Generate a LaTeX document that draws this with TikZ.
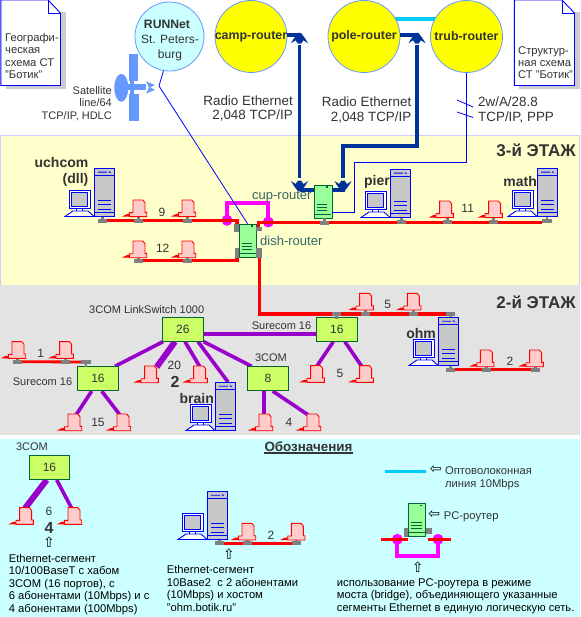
\documentclass[tikz,border=0pt]{standalone}
\usepackage{fontspec}
\setmainfont{Liberation Sans}
\newfontfamily\symfont{DejaVu Sans}
\usepackage{tikz}
\pgfdeclarelayer{floors}
\pgfdeclarelayer{wires}
\pgfsetlayers{floors,wires,main}
\definecolor{bandyellow}{HTML}{FFFFCC}
\definecolor{bandgray}{HTML}{E3E3E3}
\definecolor{bandcyan}{HTML}{CCFFFF}
\definecolor{bandedge}{HTML}{CCCCFF}
\definecolor{skyedge}{HTML}{6699FF}
\definecolor{radioblue}{HTML}{003399}
\definecolor{fibercyan}{HTML}{00CCFF}
\definecolor{hubgreen}{HTML}{CCFF66}
\definecolor{darkgreen}{HTML}{006633}
\definecolor{routerfill}{HTML}{99FF99}
\definecolor{hubpurple}{HTML}{9900CC}
\definecolor{tapgray}{HTML}{808080}
\definecolor{termpink}{HTML}{FFCCCC}
\definecolor{servergray}{HTML}{C8C8C8}
\definecolor{txtgray}{HTML}{333333}
\definecolor{routertxt}{HTML}{336666}
\definecolor{brightpink}{HTML}{FF00FF}
\definecolor{routeryellow}{HTML}{FFFF00}
\tikzset{
  cloudnode/.style={circle,draw=skyedge,line width=0.8pt,minimum size=#1,inner sep=0pt},
  lbl/.style={inner sep=0pt,text=txtgray,align=left,font=\fontsize{11}{12.5}\selectfont},
  boldlbl/.style={inner sep=0pt,text=txtgray,font=\fontsize{14}{16}\selectfont\bfseries},
  countlbl/.style={inner sep=0pt,text=txtgray,font=\fontsize{12}{14}\selectfont},
  legtxt/.style={inner sep=0pt,text=black,align=left,font=\fontsize{11.2}{12.5}\selectfont},
  routerlbl/.style={inner sep=0pt,text=routertxt,font=\fontsize{13}{15}\selectfont},
  symlbl/.style={inner sep=0pt,text=black,font=\fontsize{14}{16}\symfont},
  hubbox/.style={draw=darkgreen,fill=hubgreen,line width=0.8pt,minimum width=41pt,minimum height=24pt,inner sep=0pt,text=txtgray,font=\fontsize{12}{14}\selectfont},
  routerbox/.style={draw=darkgreen,fill=routerfill,line width=0.8pt,minimum width=17pt,minimum height=33pt,inner sep=0pt},
  redbus/.style={draw=red,line width=3.4pt},
  hublink/.style={draw=hubpurple,line width=3.6pt},
  hubtrunk/.style={draw=hubpurple,line width=6pt},
  radiolink/.style={draw=radioblue,line width=3.8pt},
  thinlink/.style={draw=blue,line width=0.8pt},
  fiber/.style={draw=fibercyan,line width=3.6pt},
  bridge/.style={draw=brightpink,line width=3.8pt},
  bridgedot/.style={circle,fill=brightpink,minimum size=11pt,inner sep=0pt},
}
% paper sheet with turned corner
\newcommand{\sheet}[3]{%
  \fill[black!20] (#1+5,12) rectangle (#2+5,#3+3.5);
  \draw[blue,fill=white,line width=0.9pt] (#1,0) -- (#2-12.5,0) -- (#2,13) -- (#2,#3) -- (#1,#3) -- cycle;
  \draw[blue,line width=0.9pt] (#2-12.5,0) -- (#2-12.5,13) -- (#2,13);
}
% gray T-piece on a bus, #2 is the stem end
\newcommand{\tapmark}[2]{%
  \begin{scope}[shift={(#1)}]
    \fill[tapgray] (-4.6,-2) rectangle (4.6,2);
    \fill[tapgray] (-1.3,#2) rectangle (1.3,0);
  \end{scope}}
% pink terminal, origin at its lower right corner
\newcommand{\termicon}[1]{%
  \begin{scope}[shift={(#1)}]
    \fill[red] (-25,0) -- (-17,0) -- (-17,-2.5) -- (-20,-2.5) -- cycle;
    \draw[red,fill=termpink,line width=0.9pt] (-13.7,-16.7) -- (-4,-16.7) -- (-1.7,-14) -- (-1.7,-4.3) -- (0,-4.3) -- (0,0) -- (-17.3,0) -- (-17.3,-4) -- (-13.7,-4) -- cycle;
  \end{scope}}
% host with tower and screen, origin at the top left of the tower
\newcommand{\hosticon}[1]{%
  \begin{scope}[shift={(#1)},line width=0.9pt]
    \draw[blue,fill=servergray] (0,0) rectangle (20.5,48.5);
    \draw[blue] (0,7.5) -- (20.5,7.5) (0,44.5) -- (20.5,44.5);
    \draw[blue] (4,4.2) -- (13,4.2) (15,3.5) -- (16.5,4.8);
    \foreach \ly in {32,36,41} {\draw[blue] (4,\ly) -- (17,\ly);}
    \draw[blue,fill=white] (-25,22) rectangle (-3.7,40.5);
    \draw[blue,fill=servergray] (-22.5,24.5) rectangle (-6.2,38);
    \draw[blue,fill=white] (-18,40.5) rectangle (-11.7,43);
    \draw[blue,fill=white] (-29,48.5) -- (-21,43) -- (-6,43) -- (0,48.5) -- cycle;
  \end{scope}}
% box of a PC-router
\newcommand{\routericon}[1]{%
  \begin{scope}[shift={(#1.north west)},line width=0.8pt]
    \fill[darkgreen] (12,1.8) rectangle (14,3);
    \foreach \ly in {19.5,22.5,25.7} {\draw[darkgreen] (3,\ly) -- (13.5,\ly);}
    \draw[darkgreen] (0,30) -- (17,30);
  \end{scope}}
% fan of a radio antenna, points up for 1 and down for -1
\newcommand{\radiohead}[2]{%
  \begin{scope}[shift={(#1)},yscale=#2]
    \fill[radioblue] (-8.5,8.5) .. controls (-6,3.5) and (-3.5,1) .. (-1.5,-1.8) -- (1.5,-1.8) .. controls (3.5,1) and (6,3.5) .. (8.5,8.5) -- (4,5.5) -- (1.6,8.8) -- (-1.6,8.8) -- (-4,5.5) -- cycle;
  \end{scope}}
\begin{document}
\begin{tikzpicture}[x=1pt,y=-1pt]
  \useasboundingbox (0,0) rectangle (580,617);
  % floors
  \begin{pgfonlayer}{floors}
    \fill[white] (0,0) rectangle (580,617);
    \draw[bandedge,fill=bandyellow,line width=1pt] (0.5,136) rectangle (579.5,286);
    \fill[bandgray] (0,285) rectangle (580,435);
    \fill[bandcyan] (0,439) rectangle (580,617);
  \end{pgfonlayer}
  % taps on the buses
  \foreach \tapname/\x/\y in {tuch/102.7/220.7,t9a/138.7/220.7,t9b/187.7/220.7,t12a/138.7/260.7,t12b/187.7/260.7,
    tcup/324.3/222.7,tpier/401.7/222,t11a/447.3/222,t11b/493.3/222,tmath/547/220.7,
    t5a/365.3/314,t5b/413.3/314,tohm/450.3/369.7,t2a/486.7/369.7,t2b/535.7/369.7,
    t1a/17.3/361.7,t1b/65.7/361.7,tleg/219.3/543.3,tlega/247.3/543.3,tlegb/296.3/543.3,
    tsrv/450.3/314,thubr/336.7/314,thubl/86/362}
    {\coordinate (\tapname) at (\x,\y);}
  % terminals
  \foreach \termname/\x/\y in {m9a/146.7/216.7,m9b/195.7/216.7,m12a/146.7/257.7,m12b/195.7/257.7,
    m11a/453.3/217.7,m11b/502.3/217.7,m5a/373.3/310,m5b/421/310,m5c/324.3/382.3,m5d/373.3/382.3,
    m2a/494/366.7,m2b/543.3/366.7,m1a/25.7/358.3,m1b/73.3/358.3,m20a/158.3/382.7,m20b/207.3/382.7,
    m15a/81.7/430.7,m15b/130.7/430.7,m4a/272.7/430.7,m4b/320.7/430.7,m6a/33.3/524.3,m6b/81.7/524.3,
    mlega/255.7/540,mlegb/305/540}
    {\coordinate (\termname) at (\x,\y);}
  % hosts
  \foreach \hostname/\x/\y in {huch/94/168,hpier/390/169,hmath/537/168,hohm/438/317,hbrain/215/382,hleg/207/491}
    {\coordinate (\hostname) at (\x,\y);}

  % outside links
  \node[cloudnode=69pt,fill=bandcyan] (runnet) at (169.5,36.5) {};
  \node[cloudnode=72pt,fill=routeryellow] (camp) at (251,36.5) {\makebox[0pt]{\fontsize{12.4}{14}\selectfont\bfseries\color{txtgray}camp-router}};
  \node[cloudnode=72pt,fill=routeryellow] (pole) at (364,36.5) {\makebox[0pt]{\fontsize{12.4}{14}\selectfont\bfseries\color{txtgray}pole-router}};
  \node[cloudnode=72pt,fill=routeryellow] (trub) at (466.5,36.5) {\makebox[0pt]{\fontsize{12.4}{14}\selectfont\bfseries\color{txtgray}trub-router}};
  \node[inner sep=0pt,text=txtgray,font=\fontsize{12.2}{14}\selectfont\bfseries] (runname) at (167,24) {RUNNet};
  \node[inner sep=0pt,text=txtgray,align=center,font=\fontsize{12}{14.2}\selectfont] (runcity) at (170,48) {St. Peters-\\burg};
  \begin{pgfonlayer}{wires}
    \draw[fiber] ([xshift=-8pt,yshift=17.5pt]pole.east) -- ([xshift=8pt,yshift=17.5pt]trub.west);
  \end{pgfonlayer}
  \node[routerbox,minimum width=18pt] (cup) at (323,201.5) {};
  \node[routerbox] (dish) at (247.5,240.5) {};
  \coordinate (runbend) at (159,86);
  \coordinate (campant) at (299.5,34.8);
  \coordinate (campfall) at (299.5,45);
  \coordinate (campend) at (299.5,178);
  \coordinate (campfoot) at (299.5,190);
  \coordinate (poleant) at (417,34.8);
  \coordinate (polefall) at (417,45);
  \coordinate (polecorner) at (417,146);
  \coordinate (polecornerb) at (343,146);
  \coordinate (poleend) at (343,178);
  \coordinate (polefoot) at (345,190);
  \coordinate (trubcorner) at (354,162);
  \coordinate (trubend) at (354,212);

  % radio and modem lines
  \draw[radiolink] ([yshift=1.7pt]camp.east) -- (campant);
  \draw[radiolink] (campfall) -- (campend);
  \draw[radiolink] (campfoot) -- (campfoot -| cup.west);
  \draw[radiolink] ([yshift=1.7pt]pole.east) -- (poleant);
  \draw[radiolink] (polefall) -- (polecorner) -- (polecornerb) -- (poleend);
  \draw[radiolink] (polefoot) -- (polefoot -| cup.east);
  \draw[thinlink] (trub.south) |- (trubcorner) -- (trubend) -- (trubend -| cup.east);
  \radiohead{campant}{1}
  \radiohead{poleant}{1}
  \radiohead{299.5,189.5}{-1}
  \radiohead{343,189.5}{-1}
  \coordinate (slasha) at (457,100);
  \coordinate (slashb) at (473,107);
  \coordinate (slashc) at (457,112);
  \coordinate (slashd) at (473,117.5);
  \draw[thinlink] (slasha) -- (slashb);
  \draw[thinlink] (slashc) -- (slashd);

  % bridge between the segments
  \node[bridgedot] (dotl) at (227,220.3) {};
  \node[bridgedot] (dotr) at (268.3,222) {};
  \coordinate (bridgetl) at (227,203.3);
  \coordinate (bridgetr) at (268.3,203.3);
  \draw[bridge] (dotl.center) -- (bridgetl) -- (bridgetr) -- (dotr.center);
  \draw[thinlink] (runnet.-100) -- (runbend) -- (dish.north);

  % segments of the 3rd floor
  \coordinate (bus9end) at (237,220.7);
  \coordinate (bus9tap) at (237,226);
  \coordinate (bus12end) at (237,260.7);
  \coordinate (bus12tap) at (237,256);
  \coordinate (bus11start) at (258.6,231);
  \coordinate (bus11end) at (542.3,222.7);
  \coordinate (bus5start) at (259.7,256);
  \coordinate (bus5end) at (446.7,314);
  \draw[redbus] (tuch) -- (bus9end) -- (bus9tap);
  \draw[redbus] (t12a) -- (bus12end) -- (bus12tap);
  \draw[redbus] (bus11start) |- (bus11end);
  \draw[redbus] (bus5start) |- (bus5end);
  % segments of the 2nd floor
  \draw[redbus] (tohm) -- (t2b);
  \draw[redbus,line width=2.8pt] (t1a) -- (thubl);
  \draw[redbus] (tleg) -- (tlegb);

  % hub links
  \node[hubbox] (hubm) at (182.8,329.3) {\raisebox{-4pt}{26}};
  \node[hubbox] (hubl) at (98,378.7) {\raisebox{-4pt}{16}};
  \node[hubbox] (hube) at (268,378.7) {\raisebox{-4pt}{8}};
  \node[hubbox] (hubr) at (336.9,329.3) {\raisebox{-4pt}{16}};
  \node[hubbox,minimum width=40pt] (hubleg) at (49.5,467.5) {\raisebox{-4pt}{16}};
  \begin{pgfonlayer}{wires}
    \draw[hublink] ([yshift=-4.7pt]hubm.east) -- ([yshift=-4.7pt]hubr.west);
    \draw[hublink] ([xshift=-19.8pt]hubm.south) -- ([xshift=17pt]hubl.north);
    \draw[hubtrunk] ([xshift=-7.8pt]hubm.south) -- ([xshift=-1.6pt,yshift=15.7pt]m20a);
    \draw[hublink] ([xshift=2.2pt]hubm.south) -- ([xshift=-7.3pt,yshift=15.7pt]m20b);
    \draw[hublink] ([xshift=15.2pt]hubm.south) -- ([xshift=13pt]hbrain);
    \draw[hublink] (hubm.south east) -- ([xshift=-16.3pt]hube.north);
    \draw[hublink] ([xshift=-6.3pt]hubl.south) -- ([xshift=-5.7pt,yshift=15.7pt]m15a);
    \draw[hublink] ([xshift=3.7pt]hubl.south) -- ([xshift=-10.7pt,yshift=15.7pt]m15b);
    \draw[hublink] ([xshift=-4pt]hube.south) -- ([xshift=-8.7pt,yshift=15.7pt]m4a);
    \draw[hublink] ([xshift=4.7pt]hube.south) -- ([xshift=-12.4pt,yshift=15.7pt]m4b);
    \draw[hublink] ([xshift=-3.6pt]hubr.south) -- ([xshift=-7.6pt,yshift=16pt]m5c);
    \draw[hublink] ([xshift=8pt]hubr.south) -- ([xshift=-11.6pt,yshift=16pt]m5d);
    \draw[hubtrunk] ([xshift=-2.8pt]hubleg.south) -- ([xshift=-8.3pt,yshift=16pt]m6a);
    \draw[hublink] ([xshift=7.2pt]hubleg.south) -- ([xshift=-10pt,yshift=16pt]m6b);
  \end{pgfonlayer}

  % routers and their plugs
  \routericon{cup}
  \routericon{dish}
  \fill[tapgray] (234,224) rectangle (238.6,232);
  \fill[tapgray] (234.5,248) rectangle (238.6,258);
  \fill[tapgray] (256.4,227) rectangle (262,231);
  \fill[tapgray] (256.4,248) rectangle (262,258);
  \foreach \tapname in {t9a,t9b,t12a,t12b,t11a,t11b,t5a,t5b,t2a,t2b,t1a,t1b,tlega,tlegb}
    {\tapmark{\tapname}{-5.5}}
  \foreach \tapname in {tuch,tcup,tpier,tmath,tleg,tohm}
    {\tapmark{\tapname}{-5}}
  \foreach \tapname in {tsrv,thubr,thubl}
    {\tapmark{\tapname}{5}}
  \foreach \termname in {m9a,m9b,m12a,m12b,m11a,m11b,m5a,m5b,m5c,m5d,m2a,m2b,m1a,m1b,m20a,m20b,m15a,m15b,m4a,m4b,m6a,m6b,mlega,mlegb}
    {\termicon{\termname}}
  \foreach \hostname in {huch,hpier,hmath,hohm,hbrain,hleg}
    {\hosticon{\hostname}}

  % satellite
  \fill[skyedge] (128.5,54) rectangle (137.5,81.5);
  \fill[skyedge] (129,94) rectangle (138.5,121);
  \fill[skyedge] (121.3,87.8) ellipse (7 and 14);
  \fill[skyedge] (127,84.5) rectangle (146,90.5);
  \fill[skyedge] (130,81) rectangle (134,94.5);
  \fill[skyedge] (146,81.5) -- (155,85) -- (150,87.5) -- (155,90) -- (146,93.5) -- (149,87.5) -- cycle;

  % sheets
  \sheet{0.8}{60.5}{85.5}
  \sheet{514.3}{574.5}{85.5}
  \node[lbl,anchor=north west,font=\fontsize{11.2}{12.5}\selectfont] (geoname) at (5,33) {Географи-\\ческая\\схема СТ\\"Ботик"};
  \node[lbl,anchor=north west,font=\fontsize{11.2}{12.3}\selectfont] (strname) at (518,46) {Структур-\\ная схема\\СТ "Ботик"};

  % labels of the links
  \node[lbl,anchor=north east,align=right] (satname) at (112,86) {Satellite\\line/64\\TCP/IP, HDLC};
  \node[lbl,anchor=north east,align=right,font=\fontsize{13.4}{14.5}\selectfont] (radioa) at (293,95.5) {Radio Ethernet\\2,048 TCP/IP};
  \node[lbl,anchor=north east,align=right,font=\fontsize{13.4}{15}\selectfont] (radiob) at (411.5,97) {Radio Ethernet\\2,048 TCP/IP};
  \node[lbl,anchor=north west,font=\fontsize{13.4}{15}\selectfont] (modem) at (478,97) {2w/A/28.8\\TCP/IP, PPP};

  % floors and hosts
  \node[boldlbl,anchor=east,font=\fontsize{17}{19}\selectfont\bfseries] (floorb) at (576,150) {3-й ЭТАЖ};
  \node[boldlbl,anchor=east,font=\fontsize{17}{19}\selectfont\bfseries] (floora) at (576,302) {2-й ЭТАЖ};
  \node[boldlbl,anchor=north east,align=right] (uchname) at (88.5,157) {uchcom\\(dll)};
  \node[boldlbl,anchor=east] (piername) at (390,182) {pier};
  \node[boldlbl,anchor=east] (mathname) at (537,181) {math};
  \node[boldlbl,anchor=east] (ohmname) at (436,333) {ohm};
  \node[boldlbl,anchor=east] (brainname) at (214,398) {brain};
  \node[routerlbl,anchor=west] (cupname) at (252,197) {cup-router};
  \node[routerlbl,anchor=west] (dishname) at (260,241) {dish-router};

  % counts
  \foreach \cntname/\x/\y/\cnt in {c9/162/212/9,c12/162.7/248/12,c11/467.7/208/11,c5a/387.7/304/5,c2/510/361/2,c5b/340/373/5,c1/40.7/353/1,c15/98/422/15,c20/174.3/365/20,c4/289/422/4,c6/49/511/6,c2leg/271/535/2}
    {\node[countlbl] (\cntname) at (\x,\y) {\cnt};}
  \node[boldlbl,font=\fontsize{16}{18}\selectfont\bfseries] (bolda) at (175,382) {2};
  \node[boldlbl,font=\fontsize{16}{18}\selectfont\bfseries] (boldb) at (49,528) {4};
  \node[lbl,anchor=west] (linkname) at (89,310) {3COM LinkSwitch 1000};
  \node[lbl,anchor=west] (surer) at (251.7,326) {Surecom 16};
  \node[lbl,anchor=west] (surel) at (12.7,382) {Surecom 16};
  \node[lbl] (threecom) at (271,357.7) {3COM};
  \node[lbl] (threeleg) at (32,447) {3COM};

  % legend
  \node[inner sep=0pt,text=txtgray,font=\fontsize{13.4}{15}\selectfont\bfseries] (legname) at (308.5,446.7) {Обозначения};
  \draw[txtgray,line width=1.8pt] (legname.west |- 0,452.7) -- (legname.east |- 0,452.7);
  \coordinate (fibera) at (385,471.3);
  \coordinate (fiberb) at (426,471.3);
  \draw[fiber] (fibera) -- (fiberb);
  \node[symlbl] (arrfiber) at (435.7,470) {⇦};
  \node[lbl,anchor=north west,font=\fontsize{11.2}{13.2}\selectfont] (legfiber) at (445,466) {Оптоволоконная\\линия 10Mbps};
  \node[symlbl] (arrpc) at (434.3,514.7) {⇦};
  \node[lbl,anchor=west,font=\fontsize{11.2}{13}\selectfont] (legpc) at (443.7,516.7) {PC-роутер};
  % router of the legend
  \node[bridgedot] (legdotl) at (397.3,539.3) {};
  \node[bridgedot] (legdotr) at (438,539.3) {};
  \coordinate (legul) at (397.3,556);
  \coordinate (legur) at (438,556);
  \coordinate (legbusa) at (381,539.7);
  \coordinate (legbusb) at (407.7,539.7);
  \coordinate (legbusc) at (428.3,539.7);
  \coordinate (legbusd) at (451,539.7);
  \draw[bridge] (legdotl.center) -- (legul) -- (legur) -- (legdotr.center);
  \draw[redbus] (legbusa) -- (legbusb);
  \draw[redbus] (legbusc) -- (legbusd);
  \fill[tapgray] (404,528.3) rectangle (408.3,536.7);
  \fill[tapgray] (426,528.3) rectangle (432.3,534.3);
  \node[routerbox] (legrouter) at (417,519.7) {};
  \routericon{legrouter}
  \node[symlbl] (arrhub) at (49,542.3) {⇧};
  \node[symlbl] (arrseg) at (229,554.3) {⇧};
  \node[symlbl] (arrbridge) at (417.7,567.7) {⇧};
  \node[legtxt,anchor=north west] (leghub) at (8.7,553.7) {Ethernet-сегмент\\10/100BaseT с хабом\\3COM (16 портов), с\\6 абонентами (10Mbps) и с\\4 абонентами (100Mbps)};
  \node[legtxt,anchor=north west] (legseg) at (166.7,565.5) {Ethernet-сегмент\\10Base2 \ с 2 абонентами\\(10Mbps) и хостом\\"ohm.botik.ru"};
  \node[legtxt,anchor=north west] (legbridge) at (336.7,578.3) {использование PC-роутера в режиме\\моста (bridge), объединяющего указанные\\сегменты Ethernet в единую логическую сеть.};
\end{tikzpicture}
\end{document}
